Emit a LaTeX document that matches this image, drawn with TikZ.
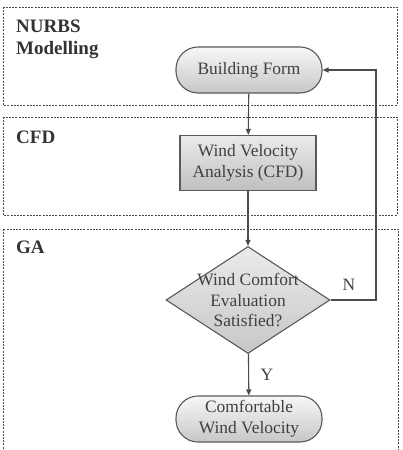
\documentclass[tikz,border=0pt]{standalone}
\usepackage{fontspec}
\setmainfont{Liberation Serif}
\usepackage{tikz}
\usetikzlibrary{arrows.meta,shapes.geometric,positioning,calc}

\begin{document}
\begin{tikzpicture}[
    x=1pt, y=-1pt,
    zone/.style={draw=black!70, line width=0.8pt, dash pattern=on 2pt off 1.2pt},
    zlabel/.style={anchor=base west, inner sep=0pt, align=left, font=\fontsize{19}{22}\selectfont\bfseries, text=black!80},
    txt/.style={align=center, font=\fontsize{17.4}{20.8}\selectfont, text=black!75},
    terminal/.style={txt, draw=black!65, line width=1.1pt, rounded corners=22pt, minimum width=146pt, minimum height=46pt, top color=black!3, bottom color=black!22},
    process/.style={txt, draw=black!65, line width=1.1pt, minimum width=136pt, minimum height=55pt, top color=black!8, bottom color=black!25},
    decision/.style={diamond, draw=black!65, line width=1.1pt, inner sep=0pt, minimum width=164pt, minimum height=107pt, top color=black!8, bottom color=black!22},
    arr/.style={-{Triangle[length=6pt,width=5pt]}, line width=1.1pt, draw=black!70}
]
\useasboundingbox (0,0) rectangle (403,450);

% dashed regions
\draw[zone] (3,7) rectangle (397,105);
\draw[zone] (3,117) rectangle (397,215);
\draw[zone] (3,229) rectangle (398,456);
\node[zlabel] (lnurbs) at (16,54) {NURBS\\Modelling};
\node[zlabel] (lcfd) at (16,143) {CFD};
\node[zlabel] (lga) at (16,253) {GA};

% flow
\node[terminal] (build) at (249,70) {Building Form};
\node[process] (cfd) at (248,163) {Wind Velocity\\Analysis (CFD)};
\node[decision, label={[txt]center:Wind Comfort\\Evaluation\\Satisfied?}] (eval) at (248,300) {};
\node[terminal] (comf) at (249,419) {Comfortable\\Wind Velocity};
\coordinate (back) at (376,70);

\draw[arr] (build) -- (cfd);
\draw[arr] (cfd) -- (eval);
\draw[arr] (eval) -- node[txt, right=8pt] (yes) {Y} (comf);
\draw[arr] (eval.east) -| (back) -- (build.east);
\node[txt] (no) at (349,285) {N};
\end{tikzpicture}
\end{document}
